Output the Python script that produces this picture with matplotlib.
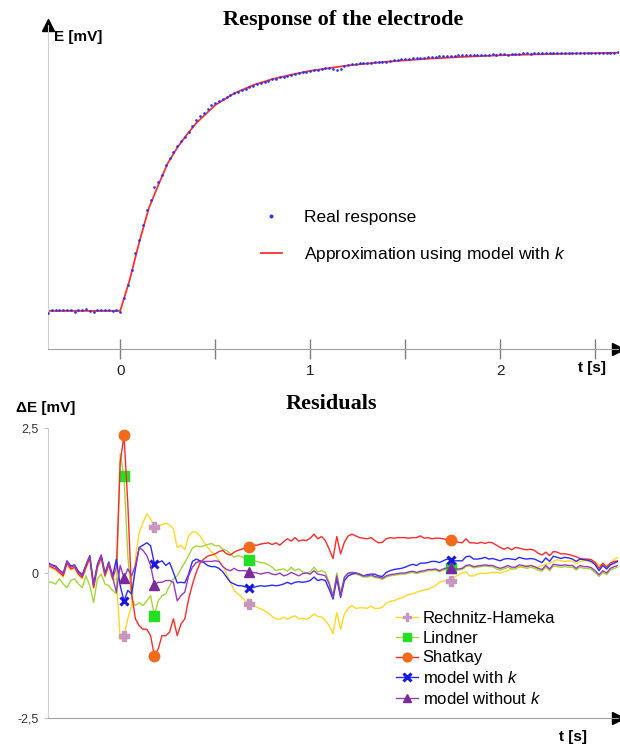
import numpy as np
import matplotlib
matplotlib.use('Agg')
import matplotlib.pyplot as plt

plt.rcParams['font.family'] = ['Liberation Sans', 'DejaVu Sans']
plt.rcParams['mathtext.fontset'] = 'custom'
plt.rcParams['mathtext.rm'] = 'Liberation Sans'
plt.rcParams['mathtext.it'] = 'Liberation Sans:italic'

# sampling of the recorded signal
t_start = -0.38
n_samples = 151
sample_period = 0.02
t = t_start + sample_period * np.arange(n_samples)

# measured electrode response E [mV] (one value per sample)
real_response = [
    -0.08, 0.04, 0.03, 0.02, 0.05, 0.03, 0.02, -0.03, 0.04, 0.02,
    0.06, 0.00, -0.05, 0.03, 0.05, 0.02, 0.03, -0.02, 0.04, -0.04,
    0.49, 1.00, 1.58, 2.23, 2.74, 3.32, 3.90, 4.29, 4.80, 4.99,
    5.25, 5.64, 5.89, 6.15, 6.37, 6.58, 6.73, 6.91, 7.14, 7.37,
    7.53, 7.66, 7.81, 7.94, 8.03, 8.11, 8.20, 8.26, 8.34, 8.41,
    8.46, 8.53, 8.57, 8.64, 8.70, 8.75, 8.79, 8.84, 8.88, 8.94,
    8.97, 9.02, 9.05, 9.09, 9.11, 9.15, 9.19, 9.22, 9.24, 9.27,
    9.29, 9.32, 9.34, 9.37, 9.39, 9.36, 9.32, 9.36, 9.46, 9.50,
    9.52, 9.55, 9.56, 9.58, 9.59, 9.59, 9.60, 9.60, 9.61, 9.63,
    9.65, 9.69, 9.70, 9.72, 9.73, 9.74, 9.76, 9.76, 9.77, 9.78,
    9.79, 9.81, 9.82, 9.83, 9.85, 9.85, 9.86, 9.86, 9.87, 9.87,
    9.87, 9.87, 9.87, 9.88, 9.88, 9.88, 9.90, 9.91, 9.90, 9.91,
    9.91, 9.90, 9.91, 9.92, 9.92, 9.94, 9.94, 9.92, 9.94, 9.94,
    9.95, 9.95, 9.95, 9.96, 9.96, 9.97, 9.97, 9.96, 9.97, 9.97,
    9.97, 9.96, 9.97, 9.96, 9.96, 9.97, 9.96, 9.95, 9.97, 9.97, 9.99,
]

# fitted model curve
fit_t = [-0.38, 0.0, 0.05, 0.10, 0.15, 0.20, 0.25, 0.30, 0.35, 0.40, 0.50, 0.60,
         0.70, 0.80, 0.90, 1.00, 1.20, 1.40, 1.60, 1.80, 2.00, 2.20, 2.40, 2.62]
fit_E = [0.0, 0.0, 1.20, 2.65, 3.95, 4.85, 5.70, 6.30, 6.80, 7.25, 7.95, 8.40,
         8.72, 8.95, 9.12, 9.27, 9.48, 9.62, 9.73, 9.81, 9.87, 9.91, 9.94, 9.97]

# residuals dE [mV] of each model
rechnitz = [
    0.11, 0.08, 0.05, -0.01, -0.07, 0.15, 0.05, 0.08, -0.04, -0.10,
    0.08, 0.24, -0.27, 0.08, 0.25, -0.07, 0.13, -0.12, -0.10, -1.15,
    -1.08, -0.79, -0.56, 0.25, 0.70, 0.87, 1.02, 0.93, 0.80, 0.82,
    0.83, 0.86, 0.83, 0.76, 0.44, 0.48, 0.40, 0.64, 0.71, 0.70,
    0.64, 0.53, 0.44, 0.37, 0.30, 0.21, 0.13, -0.02, -0.16, -0.30,
    -0.36, -0.42, -0.48, -0.53, -0.57, -0.59, -0.62, -0.65, -0.69, -0.75,
    -0.79, -0.80, -0.76, -0.80, -0.76, -0.74, -0.79, -0.78, -0.80, -0.76,
    -0.71, -0.75, -0.76, -0.82, -0.91, -1.05, -0.68, -0.97, -0.71, -0.61,
    -0.56, -0.61, -0.60, -0.60, -0.61, -0.57, -0.61, -0.61, -0.59, -0.52,
    -0.49, -0.48, -0.45, -0.43, -0.40, -0.37, -0.36, -0.33, -0.31, -0.29,
    -0.28, -0.25, -0.22, -0.16, -0.14, -0.13, -0.14, -0.07, -0.03, 0.00,
    0.02, -0.05, -0.05, -0.02, 0.00, -0.01, 0.00, 0.01, 0.01, 0.00,
    0.02, 0.04, 0.07, 0.09, 0.10, 0.10, 0.13, 0.13, 0.11, 0.10,
    0.13, 0.15, 0.17, 0.20, 0.23, 0.21, 0.20, 0.21, 0.20, 0.16,
    0.20, 0.21, 0.21, 0.17, 0.20, 0.13, 0.15, 0.13, 0.16, 0.24, 0.27,
]
lindner = [
    -0.15, -0.16, -0.19, -0.10, -0.19, -0.25, -0.13, -0.10, -0.19, -0.25,
    -0.05, -0.22, -0.51, -0.10, -0.02, -0.19, -0.22, -0.30, -0.36, 2.05,
    1.67, 0.30, -0.45, -0.56, -0.51, -0.56, -0.48, -0.39, -0.74, -0.48,
    -0.39, -0.36, -0.22, -0.10, -0.05, 0.07, 0.18, 0.30, 0.43, 0.47,
    0.45, 0.47, 0.49, 0.51, 0.47, 0.47, 0.41, 0.39, 0.33, 0.27,
    0.30, 0.28, 0.25, 0.22, 0.20, 0.20, 0.18, 0.17, 0.14, 0.10,
    0.04, 0.06, 0.07, 0.03, 0.10, 0.04, 0.07, 0.02, 0.00, 0.02,
    0.10, 0.02, 0.04, 0.01, -0.16, -0.39, 0.00, -0.33, -0.08, -0.01,
    -0.01, -0.02, -0.04, -0.07, -0.07, -0.05, -0.08, -0.09, -0.11, -0.07,
    -0.05, -0.04, -0.03, -0.02, -0.02, 0.00, 0.01, -0.01, 0.01, 0.02,
    0.04, 0.04, 0.05, 0.02, 0.05, 0.07, 0.09, 0.05, 0.05, 0.06,
    0.11, 0.12, 0.09, 0.10, 0.11, 0.12, 0.11, 0.11, 0.07, 0.05,
    0.07, 0.10, 0.07, 0.07, 0.11, 0.10, 0.08, 0.10, 0.08, 0.05,
    0.03, 0.10, 0.04, 0.12, 0.11, 0.10, 0.11, 0.10, 0.10, 0.05,
    0.10, 0.08, 0.08, 0.06, 0.01, -0.06, 0.01, -0.03, 0.05, 0.08, 0.10,
]
shatkay = [
    0.13, 0.10, 0.07, 0.01, -0.05, 0.17, 0.07, 0.10, -0.02, -0.08,
    0.10, 0.26, -0.25, 0.10, 0.27, -0.05, 0.15, -0.10, 0.10, 1.90,
    2.38, 1.20, -0.35, -0.79, -0.91, -0.97, -0.97, -1.08, -1.43, -1.31,
    -1.08, -1.08, -1.02, -0.79, -1.08, -0.88, -0.79, -0.45, -0.20, 0.01,
    0.17, 0.24, 0.29, 0.31, 0.33, 0.37, 0.39, 0.33, 0.31, 0.36,
    0.39, 0.41, 0.44, 0.45, 0.48, 0.48, 0.50, 0.51, 0.52, 0.49,
    0.52, 0.48, 0.54, 0.59, 0.55, 0.61, 0.55, 0.57, 0.56, 0.60,
    0.67, 0.59, 0.63, 0.56, 0.41, 0.25, 0.63, 0.33, 0.53, 0.64,
    0.67, 0.64, 0.61, 0.60, 0.59, 0.61, 0.56, 0.52, 0.53, 0.59,
    0.61, 0.60, 0.61, 0.61, 0.61, 0.60, 0.61, 0.61, 0.64, 0.60,
    0.61, 0.59, 0.60, 0.60, 0.59, 0.57, 0.57, 0.56, 0.53, 0.52,
    0.59, 0.52, 0.52, 0.51, 0.53, 0.51, 0.53, 0.52, 0.48, 0.44,
    0.41, 0.44, 0.40, 0.44, 0.43, 0.41, 0.40, 0.41, 0.39, 0.34,
    0.31, 0.36, 0.30, 0.37, 0.36, 0.33, 0.33, 0.32, 0.30, 0.28,
    0.25, 0.24, 0.24, 0.23, 0.18, 0.08, 0.17, 0.10, 0.17, 0.20, 0.21,
]
with_k = [
    0.18, 0.14, 0.12, 0.05, 0.00, 0.21, 0.12, 0.14, 0.03, -0.03,
    0.14, 0.30, -0.20, 0.15, 0.31, 0.00, 0.19, -0.05, 0.24, -0.22,
    -0.48, -0.30, -0.36, 0.07, 0.44, 0.48, 0.52, 0.47, 0.16, 0.18,
    0.21, 0.13, 0.18, 0.01, -0.17, -0.16, -0.17, -0.02, 0.20, 0.24,
    0.21, 0.18, 0.13, 0.11, 0.11, 0.08, 0.02, -0.07, -0.16, -0.19,
    -0.22, -0.22, -0.24, -0.26, -0.25, -0.23, -0.22, -0.23, -0.22, -0.21,
    -0.22, -0.21, -0.19, -0.16, -0.19, -0.16, -0.15, -0.16, -0.15, -0.13,
    -0.07, -0.13, -0.11, -0.13, -0.28, -0.45, -0.10, -0.42, -0.13, -0.05,
    -0.02, 0.00, -0.02, -0.05, -0.03, -0.02, -0.02, -0.05, -0.06, 0.01,
    0.04, 0.06, 0.07, 0.08, 0.10, 0.13, 0.15, 0.13, 0.17, 0.17,
    0.18, 0.20, 0.20, 0.18, 0.21, 0.24, 0.22, 0.21, 0.21, 0.21,
    0.28, 0.29, 0.24, 0.24, 0.25, 0.27, 0.24, 0.25, 0.23, 0.21,
    0.24, 0.25, 0.24, 0.23, 0.27, 0.25, 0.24, 0.25, 0.24, 0.21,
    0.18, 0.26, 0.20, 0.29, 0.27, 0.25, 0.27, 0.26, 0.24, 0.20,
    0.24, 0.23, 0.22, 0.20, 0.14, 0.04, 0.13, 0.07, 0.14, 0.17, 0.20,
]
without_k = [
    0.16, 0.13, 0.10, 0.04, -0.02, 0.20, 0.10, 0.13, 0.01, -0.05,
    0.13, 0.29, -0.22, 0.13, 0.30, -0.02, 0.18, -0.07, -0.33, 0.13,
    -0.09, 0.07, -0.05, 0.13, 0.44, 0.39, 0.30, 0.13, -0.20, -0.16,
    -0.16, -0.13, -0.13, -0.16, -0.48, -0.39, -0.33, -0.05, 0.10, 0.18,
    0.20, 0.20, 0.20, 0.20, 0.21, 0.20, 0.11, 0.06, 0.04, 0.08,
    0.04, 0.04, 0.04, 0.01, 0.01, 0.00, -0.02, 0.00, 0.01, -0.02,
    -0.03, 0.00, -0.05, -0.03, 0.01, -0.02, -0.05, -0.01, 0.00, -0.02,
    0.04, -0.02, -0.03, -0.05, -0.19, -0.42, -0.05, -0.39, -0.07, 0.00,
    0.01, 0.00, -0.02, -0.05, -0.05, -0.03, -0.06, -0.07, -0.09, -0.05,
    -0.03, -0.02, -0.01, 0.00, 0.00, 0.02, 0.03, 0.01, 0.03, 0.04,
    0.06, 0.06, 0.07, 0.04, 0.07, 0.09, 0.09, 0.07, 0.07, 0.08,
    0.13, 0.14, 0.11, 0.12, 0.13, 0.14, 0.13, 0.13, 0.10, 0.08,
    0.10, 0.13, 0.10, 0.10, 0.14, 0.13, 0.11, 0.13, 0.11, 0.08,
    0.06, 0.13, 0.07, 0.15, 0.14, 0.13, 0.14, 0.13, 0.13, 0.08,
    0.13, 0.11, 0.11, 0.09, 0.04, -0.03, 0.04, 0.00, 0.08, 0.11, 0.13,
]
marker_idx = [20, 28, 53, 106]

top_ticks = [0, 0.5, 1, 1.5, 2, 2.5]
top_tick_labels = ['0', '', '1', '', '2', '']
res_ticks = [-2.5, 0, 2.5]
res_tick_labels = ['-2,5', '0', '2,5']

W, H = 620, 746
fig = plt.figure(figsize=(W / 100, H / 100), dpi=100)

def px_box(x0, y0, x1, y1):
    return [x0 / W, 1 - y1 / H, (x1 - x0) / W, (y1 - y0) / H]

# ---------------- top panel ----------------
ax1 = fig.add_axes(px_box(48, 25, 618, 349))
ax1.plot(fit_t, fit_E, color='#ff3030', lw=1.3, label='Approximation using model with $k$', zorder=2)
ax1.plot(t, real_response, ls='none', marker='o', ms=1.9, mew=0, color='#2233ff',
         label='Real response', zorder=3)
ax1.set_xlim(-0.38, 2.62)
ax1.set_ylim(-1.47, 11.04)
for s in ['top', 'right']:
    ax1.spines[s].set_visible(False)
ax1.spines['left'].set_color('#d0d0d0')
ax1.spines['bottom'].set_color('#a0a0a0')
ax1.set_yticks([])
ax1.set_xticks(top_ticks)
ax1.set_xticklabels(top_tick_labels, fontsize=11, color='#222222')
ax1.tick_params(axis='x', direction='inout', length=14, width=1, color='#808080', pad=4)
ax1.plot(1, 0, marker='>', ms=9, color='black', transform=ax1.transAxes, clip_on=False)
ax1.plot(0, 1, marker='^', ms=9, color='black', transform=ax1.transAxes, clip_on=False)

handles, labels = ax1.get_legend_handles_labels()
ax1.legend(handles[::-1], labels[::-1], loc='upper left', bbox_to_anchor=(261 / W, 1 - 210 / H),
           bbox_transform=fig.transFigure, frameon=False, fontsize=12.5, numpoints=1,
           markerscale=1.5, handlelength=1.2, handletextpad=1.3, labelspacing=1.15,
           borderpad=0, borderaxespad=0)

fig.text(343 / W, 1 - 20 / H, 'Response of the electrode', family='Liberation Serif',
         weight='bold', fontsize=16, ha='center', va='center')
fig.text(54 / W, 1 - 37 / H, 'E [mV]', weight='bold', fontsize=11, ha='left', va='center')
fig.text(592 / W, 1 - 368 / H, 't [s]', weight='bold', fontsize=11, ha='center', va='center')

# ---------------- residuals panel ----------------
ax2 = fig.add_axes(px_box(48, 428, 618, 718))
series = [
    (rechnitz, 'Rechnitz-Hameka', '#ffd826', 'P', '#c896c0', 7.5, 0),
    (lindner, 'Lindner', '#a4d63a', 's', '#22e022', 6.5, 0),
    (shatkay, 'Shatkay', '#ff2a2a', 'o', '#f26a1b', 7.5, 0),
    (with_k, 'model with $k$', '#2a2aff', 'x', '#1818d8', 6, 2.2),
    (without_k, 'model without $k$', '#9a3ab8', '^', '#7a2a9e', 6.5, 0),
]
for values, name, lc, mk, mc, ms, mew in series:
    ax2.plot(t, values, color=lc, lw=1.0, marker=mk, markevery=marker_idx, ms=ms,
             mfc=mc, mec=mc, mew=mew if mew else 1, label=name)
ax2.set_xlim(-0.38, 2.62)
ax2.set_ylim(-2.5, 2.5)
for s in ['top', 'right']:
    ax2.spines[s].set_visible(False)
ax2.spines['left'].set_color('#d0d0d0')
ax2.spines['bottom'].set_color('#a0a0a0')
ax2.set_xticks([])
ax2.set_yticks(res_ticks)
ax2.set_yticklabels(res_tick_labels, fontsize=9, color='#333333')
ax2.tick_params(axis='y', length=3, color='#c0c0c0', pad=4)
ax2.plot(1, 0, marker='>', ms=9, color='black', transform=ax2.transAxes, clip_on=False)
ax2.legend(loc='upper left', bbox_to_anchor=(396 / W, 1 - 611 / H), bbox_transform=fig.transFigure,
           frameon=False, fontsize=12, handlelength=1.3, handletextpad=0.3, labelspacing=0.28,
           borderpad=0, borderaxespad=0, markerscale=0.85)

fig.text(331 / W, 1 - 404 / H, 'Residuals', family='Liberation Serif', weight='bold',
         fontsize=16, ha='center', va='center')
fig.text(16 / W, 1 - 408 / H, '\u0394E [mV]', weight='bold', fontsize=11, ha='left', va='center')
fig.text(573 / W, 1 - 737 / H, 't [s]', weight='bold', fontsize=11, ha='center', va='center')

fig.savefig('out.png', dpi=100)
